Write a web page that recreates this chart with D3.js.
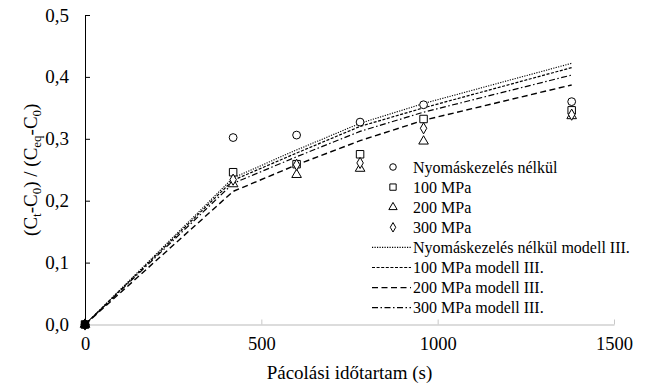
<!DOCTYPE html>
<html>
<head>
<meta charset="utf-8">
<script src="https://cdn.jsdelivr.net/npm/d3@7/dist/d3.min.js"></script>
<style>
  html, body { margin: 0; padding: 0; background: #fff; }
  svg { display: block; }
</style>
</head>
<body>
<svg id="chart" width="651" height="387"></svg>
<script>
// Pickling time points (s)
const times = [0, 420, 600, 780, 960, 1380];

// Measured values, (Ct-C0)/(Ceq-C0)
const measNone = [0, 0.302, 0.306, 0.327, 0.355, 0.360];
const meas100  = [0, 0.246, 0.259, 0.275, 0.332, 0.346];
const meas200  = [0, 0.227, 0.242, 0.252, 0.296, 0.337];
const meas300  = [0, 0.234, 0.258, 0.261, 0.317, 0.339];

// Model III fitted curves
const modelNone = [0, 0.237, 0.282, 0.325, 0.357, 0.422];
const model100  = [0, 0.233, 0.277, 0.320, 0.350, 0.415];
const model200  = [0, 0.215, 0.258, 0.297, 0.330, 0.387];
const model300  = [0, 0.228, 0.271, 0.312, 0.343, 0.403];

const xTicks = [0, 500, 1000, 1500];
const yTicks = [0, 0.1, 0.2, 0.3, 0.4, 0.5];

const measLabels = ["Nyomáskezelés nélkül", "100 MPa", "200 MPa", "300 MPa"];
const modelLabels = ["Nyomáskezelés nélkül modell III.", "100 MPa modell III.", "200 MPa modell III.", "300 MPa modell III."];

const FONT = "'Liberation Serif', serif";
const svg = d3.select("#chart").attr("font-family", FONT);
const x = d3.scaleLinear().domain([0, 1500]).range([85, 614]);
const y = d3.scaleLinear().domain([0, 0.5]).range([324.5, 15]);

// X axis (light grey line, inward ticks)
const xAxis = svg.append("g").attr("transform", `translate(0,${y(0)})`)
  .call(d3.axisBottom(x).tickValues(xTicks).tickSize(0).tickPadding(12).tickFormat(d3.format("d")))
  .attr("font-family", FONT);
xAxis.select(".domain").attr("stroke", "#d0d0d0").attr("stroke-width", 1.3);
xAxis.selectAll(".tick text").attr("font-family", FONT).attr("font-size", 18.5).attr("fill", "#000");
xAxis.selectAll(".tick").filter(d => d > 0).append("line")
  .attr("y1", 0).attr("y2", -5).attr("stroke", "#c8c8c8");

// Y axis (black line, inward ticks)
const fmtY = d => d3.format(".1f")(d).replace(".", ",");
const yAxis = svg.append("g").attr("transform", `translate(${x(0)},0)`)
  .call(d3.axisLeft(y).tickValues(yTicks).tickSize(0).tickPadding(16).tickFormat(fmtY))
  .attr("font-family", FONT);
yAxis.select(".domain").attr("stroke", "#000").attr("stroke-width", 1);
yAxis.selectAll(".tick text").attr("font-family", FONT).attr("font-size", 19).attr("fill", "#000");
yAxis.selectAll(".tick").append("line").attr("x1", 0).attr("x2", 5).attr("stroke", "#000");

// Axis titles
svg.append("text").attr("x", (x(0) + x(1500)) / 2).attr("y", 379)
  .attr("font-family", FONT)
  .attr("text-anchor", "middle").attr("font-size", 19).text("Pácolási időtartam (s)");

const yt = svg.append("text").attr("transform", `translate(37,${(y(0) + y(0.5)) / 2}) rotate(-90)`)
  .attr("font-family", FONT)
  .attr("text-anchor", "middle").attr("font-size", 19);
yt.append("tspan").text("(C");
yt.append("tspan").attr("dy", 4).attr("font-size", 13).text("t");
yt.append("tspan").attr("dy", -4).text("-C");
yt.append("tspan").attr("dy", 4).attr("font-size", 13).text("0");
yt.append("tspan").attr("dy", -4).text(") / (C");
yt.append("tspan").attr("dy", 4).attr("font-size", 13).text("eq");
yt.append("tspan").attr("dy", -4).text("-C");
yt.append("tspan").attr("dy", 4).attr("font-size", 13).text("0");
yt.append("tspan").attr("dy", -4).text(")");

// Model lines
const models = [
  { vals: modelNone, dash: "1.2,1.3", w: 1.1 },
  { vals: model100,  dash: "3,1.6",   w: 1.2 },
  { vals: model200,  dash: "6,3.5",   w: 1.4 },
  { vals: model300,  dash: "6,2.5,1.5,2.5", w: 1.2 }
];
const line = d3.line().x((d, i) => x(times[i])).y(d => y(d));
models.forEach(m => {
  svg.append("path").datum(m.vals).attr("d", line)
    .attr("fill", "none").attr("stroke", "#000")
    .attr("stroke-width", m.w).attr("stroke-dasharray", m.dash);
});

// Marker shapes
const symbolTypes = [d3.symbolCircle, d3.symbolSquare, d3.symbolTriangle, d3.symbolDiamond];
const symbols = [48, 56, 40, 36].map((s, k) => d3.symbol().type(symbolTypes[k]).size(s));
const measured = [measNone, meas100, meas200, meas300];
measured.forEach((vals, k) => {
  svg.append("g").selectAll("path").data(vals).join("path")
    .attr("transform", (d, i) => `translate(${x(times[i])},${y(d)})`)
    .attr("d", symbols[k]())
    .attr("fill", (d, i) => times[i] === 0 ? "#000" : "#fff")
    .attr("stroke", "#000").attr("stroke-width", 1);
});

// Legend
const lg = svg.append("g").attr("font-family", FONT);
const rowY = i => 167 + i * 20.1;
measLabels.forEach((t, i) => {
  lg.append("path").attr("transform", `translate(393,${rowY(i)})`)
    .attr("d", d3.symbol().type(symbolTypes[i]).size([34, 40, 30, 26][i])())
    .attr("fill", "#fff").attr("stroke", "#000").attr("stroke-width", 1);
  lg.append("text").attr("x", 413).attr("y", rowY(i) + 5.5).attr("font-size", 16).text(t);
});
modelLabels.forEach((t, j) => {
  const i = j + 4;
  lg.append("line").attr("x1", 372).attr("x2", 411).attr("y1", rowY(i)).attr("y2", rowY(i))
    .attr("stroke", "#000").attr("stroke-width", models[j].w).attr("stroke-dasharray", models[j].dash);
  lg.append("text").attr("x", 413).attr("y", rowY(i) + 5.5).attr("font-size", 16).text(t);
});
</script>
</body>
</html>
